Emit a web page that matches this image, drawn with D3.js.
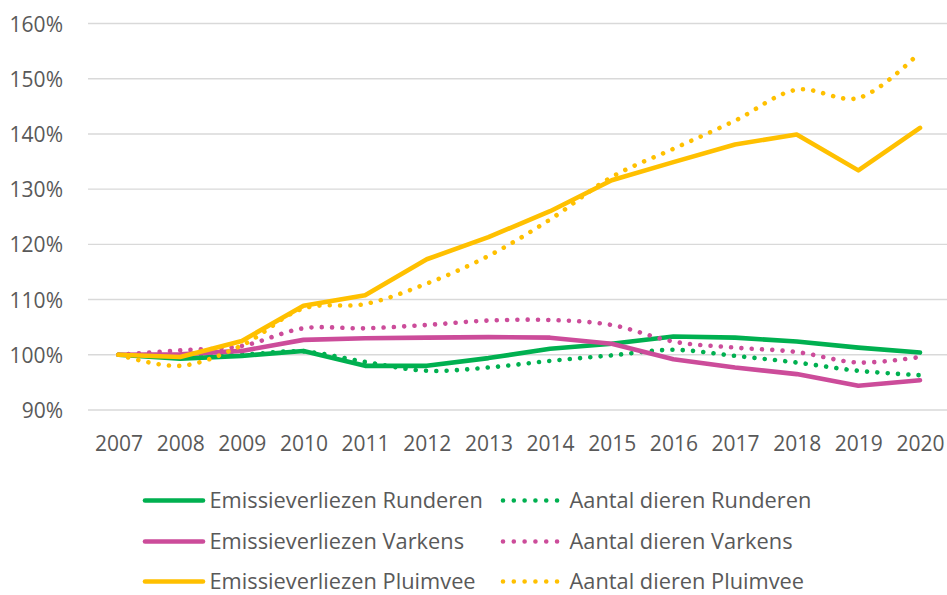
<!DOCTYPE html>
<html>
<head>
<meta charset="utf-8">
<script src="https://cdn.jsdelivr.net/npm/d3@7/dist/d3.min.js"></script>
<style>
  html, body { margin: 0; padding: 0; background: #fff; }
  svg { display: block; }
  text { font-family: "Open Sans", "Liberation Sans", sans-serif; fill: #595959; }
</style>
</head>
<body>
<svg id="chart" width="947" height="595"></svg>
<script>
const years = ["2007","2008","2009","2010","2011","2012","2013","2014","2015","2016","2017","2018","2019","2020"];
const emRunderen   = [100, 99.3, 99.8, 100.7, 98.0, 98.0, 99.4, 101.1, 102.0, 103.3, 103.1, 102.4, 101.3, 100.4];
const aantRunderen = [100, 99.6, 100.0, 100.6, 98.7, 97.1, 97.7, 98.9, 99.9, 100.9, 99.8, 98.6, 97.1, 96.3];
const emVarkens    = [100, 100.1, 100.7, 102.7, 103.0, 103.1, 103.2, 103.1, 102.0, 99.2, 97.7, 96.5, 94.4, 95.4];
const aantVarkens  = [100, 100.8, 101.6, 104.8, 104.8, 105.4, 106.2, 106.3, 105.4, 102.4, 101.3, 100.5, 98.6, 99.6];
const emPluimvee   = [100, 99.6, 102.5, 108.9, 110.8, 117.3, 121.3, 126.0, 131.6, 134.9, 138.1, 139.9, 133.4, 141.1];
const aantPluimvee = [100, 98.0, 101.7, 108.4, 109.2, 112.9, 117.9, 124.5, 132.2, 137.3, 142.4, 148.0, 146.5, 154.8];
const yTicks = [90, 100, 110, 120, 130, 140, 150, 160];

const seriesNames = ["Emissieverliezen Runderen","Aantal dieren Runderen","Emissieverliezen Varkens","Aantal dieren Varkens","Emissieverliezen Pluimvee","Aantal dieren Pluimvee"];
const seriesValues = [emRunderen, aantRunderen, emVarkens, aantVarkens, emPluimvee, aantPluimvee];
const seriesColors = ["#00B050","#00B050","#CC4C9A","#CC4C9A","#FFC000","#FFC000"];
const seriesDotted = [false, true, false, true, false, true];

const svg = d3.select("#chart");
const plotLeft = 88, plotRight = 947;
const x = d3.scalePoint().domain(years).range([118.5, 920]);
const y = d3.scaleLinear().domain([90, 160]).range([410, 23.5]);

// gridlines
svg.append("g").selectAll("line").data(yTicks).join("line")
  .attr("x1", plotLeft).attr("x2", plotRight)
  .attr("y1", d => y(d)).attr("y2", d => y(d))
  .attr("stroke", "#D9D9D9").attr("stroke-width", 1.4);

// y axis labels
const yAxis = d3.axisLeft(y).tickValues(yTicks).tickFormat(d => d + "%").tickSize(0).tickPadding(0);
const gy = svg.append("g").attr("transform", "translate(63,0)").call(yAxis);
gy.select(".domain").remove();
gy.selectAll("text").attr("font-size", "21px").attr("font-family", null).attr("fill", "#595959").attr("dy", "0.36em");

// x axis labels
const xAxis = d3.axisBottom(x).tickSize(0).tickPadding(0);
const gx = svg.append("g").attr("transform", "translate(0,436)").call(xAxis);
gx.select(".domain").remove();
gx.selectAll("text").attr("font-size", "21px").attr("font-family", null).attr("fill", "#595959").attr("dy", "0.72em");

// lines
const lineStraight = d3.line().x((d, i) => x(years[i])).y(d => y(d));
const lineSmooth = d3.line().x((d, i) => x(years[i])).y(d => y(d)).curve(d3.curveCatmullRom.alpha(0.5));

seriesValues.forEach((vals, k) => {
  const p = svg.append("path")
    .attr("d", seriesDotted[k] ? lineSmooth(vals) : lineStraight(vals))
    .attr("fill", "none")
    .attr("stroke", seriesColors[k])
    .attr("stroke-width", 4.6)
    .attr("stroke-linejoin", "round")
    .attr("stroke-linecap", "round");
  if (seriesDotted[k]) p.attr("stroke-dasharray", "0.01 10.3");
});

// legend
const legendRows = [500.5, 541.5, 581.5];
const legend = svg.append("g");
seriesNames.forEach((name, k) => {
  const row = Math.floor(k / 2), col = k % 2;
  const yy = legendRows[row];
  const g = legend.append("g");
  if (col === 0) {
    g.append("line").attr("x1", 145).attr("x2", 203).attr("y1", yy).attr("y2", yy)
      .attr("stroke", seriesColors[k]).attr("stroke-width", 4.6).attr("stroke-linecap", "round");
    g.append("text").attr("x", 209.5).attr("y", yy + 7.5).attr("font-size", "21.8px").text(name);
  } else {
    g.append("line").attr("x1", 503).attr("x2", 557.5).attr("y1", yy).attr("y2", yy)
      .attr("stroke", seriesColors[k]).attr("stroke-width", 4.6).attr("stroke-linecap", "round")
      .attr("stroke-dasharray", "0.01 10.8");
    g.append("text").attr("x", 569.5).attr("y", yy + 7.5).attr("font-size", "21.8px").text(name);
  }
});
</script>
</body>
</html>
